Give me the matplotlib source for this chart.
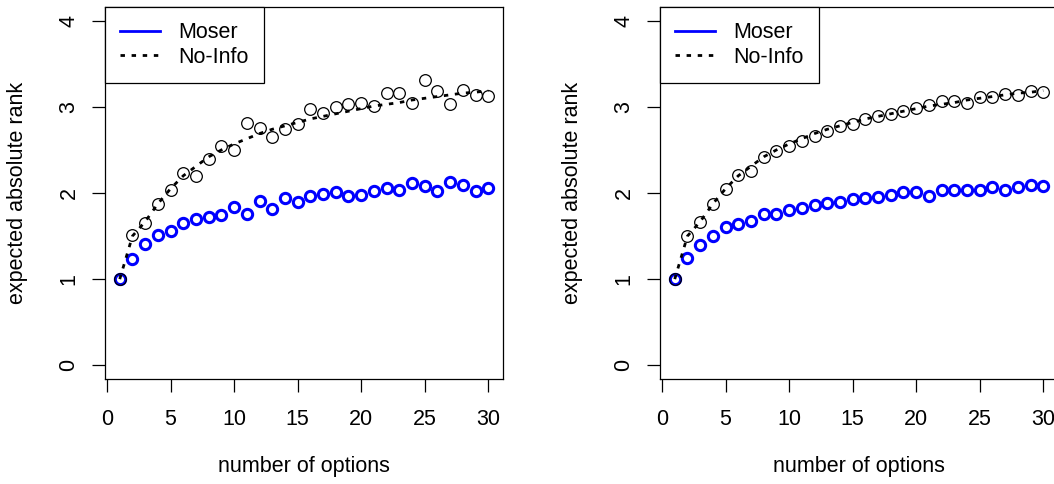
import numpy as np
import matplotlib
matplotlib.use("Agg")
import matplotlib.pyplot as plt
from matplotlib.lines import Line2D

plt.rcParams['font.family'] = ['Liberation Sans', 'DejaVu Sans']

n_options = np.arange(1, 31)

# theoretical optimal expected rank without information (dashed curve)
no_info_theory = [1.00, 1.50, 1.667, 1.875, 2.05, 2.20, 2.31, 2.42, 2.50, 2.57,
                  2.63, 2.69, 2.74, 2.78, 2.82, 2.86, 2.89, 2.92, 2.95, 2.98,
                  3.01, 3.03, 3.05, 3.08, 3.10, 3.12, 3.14, 3.16, 3.17, 3.19]

# left panel: simulated runs
moser_left = [1.00, 1.23, 1.41, 1.51, 1.56, 1.65, 1.70, 1.72, 1.75, 1.84,
              1.76, 1.91, 1.82, 1.94, 1.89, 1.96, 1.99, 2.01, 1.96, 1.98,
              2.02, 2.06, 2.04, 2.12, 2.08, 2.02, 2.13, 2.09, 2.02, 2.06]
no_info_left = [1.00, 1.51, 1.65, 1.87, 2.04, 2.23, 2.20, 2.39, 2.55, 2.50,
                2.81, 2.76, 2.65, 2.74, 2.80, 2.97, 2.93, 3.00, 3.03, 3.05,
                3.01, 3.16, 3.16, 3.05, 3.31, 3.18, 3.03, 3.20, 3.14, 3.13]

# right panel: simulated runs with more repetitions
moser_right = [1.00, 1.24, 1.40, 1.50, 1.60, 1.64, 1.68, 1.76, 1.76, 1.80,
               1.83, 1.86, 1.88, 1.89, 1.93, 1.94, 1.95, 1.98, 2.01, 2.01,
               1.97, 2.03, 2.04, 2.04, 2.04, 2.07, 2.04, 2.07, 2.09, 2.08]
no_info_right = [1.00, 1.50, 1.66, 1.87, 2.05, 2.21, 2.26, 2.42, 2.49, 2.55,
                 2.60, 2.66, 2.72, 2.78, 2.80, 2.86, 2.90, 2.92, 2.95, 2.99,
                 3.02, 3.07, 3.07, 3.05, 3.11, 3.11, 3.15, 3.14, 3.18, 3.17]

W, H = 1054, 484
FS = 15.5
DASH = (1.6, 2.4)
fig = plt.figure(figsize=(W / 100, H / 100), dpi=100)


def panel(left_px, moser, no_info):
    ax = fig.add_axes([left_px / W, (H - 379) / H, 398 / W, 372 / H])
    ax.plot(n_options, moser, 'o', mfc='none', mec='#0000ff', ms=7.4, mew=2.2,
            zorder=2)
    ax.plot(n_options, no_info, 'o', mfc='none', mec='black', ms=8.4, mew=0.9,
            zorder=3)
    ax.plot(n_options, no_info_theory, color='black', lw=2, dashes=DASH,
            zorder=4)
    ax.set_xlim(1 - 0.04 * 29, 30 + 0.04 * 29)
    ax.set_ylim(-0.16, 4.16)
    ax.set_xticks([0, 5, 10, 15, 20, 25, 30])
    ax.set_yticks([0, 1, 2, 3, 4])
    ax.tick_params(axis='both', direction='out', length=9.4, width=0.9,
                   labelsize=FS)
    ax.tick_params(axis='x', pad=12.5)
    ax.tick_params(axis='y', pad=9, labelrotation=90)
    for lbl in ax.get_yticklabels():
        lbl.set_va('center')
    for s in ax.spines.values():
        s.set_linewidth(0.9)
    ax.set_xlabel('number of options', fontsize=FS)
    ax.set_ylabel('expected absolute rank', fontsize=FS)
    ax.xaxis.set_label_coords(0.5, (379 - 456) / 372)
    ax.yaxis.set_label_coords((28 - 105) / 398, 0.5)
    handles = [Line2D([], [], color='#0000ff', lw=2),
               Line2D([], [], color='black', lw=2, dashes=DASH)]
    leg = ax.legend(handles, ['Moser', 'No-Info'], loc='upper left',
                    bbox_to_anchor=(0, 1), borderaxespad=0, fontsize=FS,
                    fancybox=False, framealpha=1, edgecolor='black',
                    handlelength=1.85, handletextpad=0.85, borderpad=0.7,
                    labelspacing=0.18)
    leg.get_frame().set_linewidth(0.9)
    return ax


panel(105, moser_left, no_info_left)
panel(660, moser_right, no_info_right)

fig.savefig('out.png', dpi=100)
